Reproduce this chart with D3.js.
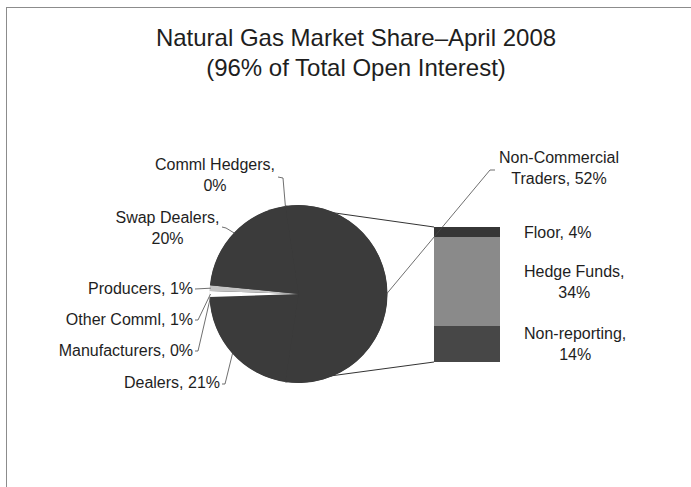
<!DOCTYPE html>
<html>
<head>
<meta charset="utf-8">
<script src="https://cdn.jsdelivr.net/npm/d3@7"></script>
<style>
  body { margin: 0; background: #fff; }
  text { font-family: Arial, "Liberation Sans", sans-serif; fill: #1e1e1e; }
</style>
</head>
<body>
<svg id="chart" width="691" height="487"></svg>
<script>
// pie slices, clockwise starting from the slice that is split out into the bar
const pieNames = ["Non-Commercial Traders", "Dealers", "Manufacturers", "Other Comml", "Producers", "Swap Dealers", "Comml Hedgers"];
const pieValues = [52, 21, 0, 1, 1, 20, 0];
const pieColors = ["#3b3b3b", "#3b3b3b", "#3b3b3b", "#ffffff", "#c4c4c4", "#3b3b3b", "#3b3b3b"];

// breakdown of the split slice (top to bottom)
const barNames = ["Floor", "Hedge Funds", "Non-reporting"];
const barValues = [4, 34, 14];
const barColors = ["#363636", "#8a8a8a", "#474747"];

const titleLines = ["Natural Gas Market Share\u2013April 2008", "(96% of Total Open Interest)"];

// layout
let cx = 298.5, cy = 294, r = 89;
let barX = 434, barW = 66, barTop = 227, barBottom = 362;
let lineH = 21;

// where each pie label sits and where its leader starts (label side)
let pieLabelPos = {
  "Comml Hedgers": {x: 215, y: 170, anchor: "middle", br: 2, leader: [[278, 177], [283, 178]]},
  "Swap Dealers": {x: 167.5, y: 223, anchor: "middle", br: 2, leader: [[222, 227], [226, 228]]},
  "Producers": {x: 193, y: 294, anchor: "end", leader: [[195, 289]]},
  "Other Comml": {x: 193, y: 325, anchor: "end", leader: [[195, 320], [198, 320]]},
  "Manufacturers": {x: 193, y: 356, anchor: "end", leader: [[195, 351], [198, 351]]},
  "Dealers": {x: 220, y: 388, anchor: "end", leader: [[222, 384], [225, 384]]},
  "Non-Commercial Traders": {x: 559, y: 163, anchor: "middle", br: 1, leader: [[495, 170], [490, 170]]}
};
let barLabelBr = {"Floor": null, "Hedge Funds": 2, "Non-reporting": 1};

let svg = d3.select("#chart");

// frame
svg.append("rect")
  .attr("x", 6.5).attr("y", 7.5)
  .attr("width", 720).attr("height", 520)
  .attr("fill", "none")
  .attr("stroke", "#8c8c8c")
  .attr("stroke-width", 1);

// title
svg.append("g").selectAll("text")
  .data(titleLines)
  .enter().append("text")
  .attr("x", 356)
  .attr("y", (d, i) => 46 + i * 30)
  .attr("text-anchor", "middle")
  .style("font-size", "24px")
  .text(d => d);

let total = d3.sum(pieValues);
let splitAngle = pieValues[0] / total * 2 * Math.PI;
let start = Math.PI / 2 - splitAngle / 2;

let pie = d3.pie()
  .sort(null)
  .value(d => d)
  .startAngle(start)
  .endAngle(start + 2 * Math.PI);

let arcs = pie(pieValues);

let arc = d3.arc().innerRadius(0).outerRadius(r);

let pt = function(a, rad) {
  return [cx + rad * Math.sin(a), cy - rad * Math.cos(a)];
};

// bar scale
let y = d3.scaleLinear()
  .domain([0, d3.sum(barValues)])
  .range([barTop, barBottom]);

let stacked = [];
let acc = 0;
barValues.forEach(function(v, i) {
  stacked.push({name: barNames[i], value: v, y0: acc, y1: acc + v, color: barColors[i]});
  acc += v;
});

// connector lines between the split slice and the bar
let lineG = svg.append("g");
lineG.append("line")
  .attr("x1", pt(arcs[0].startAngle, r)[0]).attr("y1", pt(arcs[0].startAngle, r)[1])
  .attr("x2", barX).attr("y2", y(0))
  .attr("stroke", "#333").attr("stroke-width", 1);
lineG.append("line")
  .attr("x1", pt(arcs[0].endAngle, r)[0]).attr("y1", pt(arcs[0].endAngle, r)[1])
  .attr("x2", barX).attr("y2", y(d3.sum(barValues)))
  .attr("stroke", "#333").attr("stroke-width", 1);

// pie (dark disc underneath so the slice seams don't show)
let pieG = svg.append("g")
  .attr("transform", "translate(" + cx + "," + cy + ")");
pieG.append("circle").attr("r", r - 0.3).attr("fill", pieColors[0]);
pieG.selectAll("path")
  .data(arcs)
  .enter().append("path")
  .attr("d", arc)
  .attr("fill", (d, i) => pieColors[i]);

// bar
svg.append("g").selectAll("rect")
  .data(stacked)
  .enter().append("rect")
  .attr("x", barX)
  .attr("y", d => y(d.y0))
  .attr("width", barW)
  .attr("height", d => y(d.y1) - y(d.y0))
  .attr("fill", d => d.color)
  .attr("shape-rendering", "crispEdges");

let splitLines = function(full, br) {
  if (!br) return [full];
  let words = full.split(" ");
  return [words.slice(0, br).join(" "), words.slice(br).join(" ")];
};

// pie labels and leaders
let labelG = svg.append("g").style("font-size", "16px");
arcs.forEach(function(a, i) {
  let name = pieNames[i];
  let pos = pieLabelPos[name];
  let lines = splitLines(name + ", " + pieValues[i] + "%", pos.br);
  let t = labelG.append("text")
    .attr("text-anchor", pos.anchor);
  lines.forEach(function(l, k) {
    t.append("tspan").attr("x", pos.x).attr("y", pos.y + k * lineH).text(l);
  });
  let mid = (a.startAngle + a.endAngle) / 2;
  let pts = pos.leader.concat([pt(mid, r - 1)]);
  labelG.append("path")
    .attr("d", d3.line()(pts))
    .attr("fill", "none")
    .attr("stroke", "#4a4a4a")
    .attr("stroke-width", 0.8);
});

// bar labels: left edge aligned, lines centred in their block, block centred on the segment
stacked.forEach(function(d) {
  let lines = splitLines(d.name + ", " + d.value + "%", barLabelBr[d.name]);
  let mid = (y(d.y0) + y(d.y1)) / 2;
  let t = labelG.append("text").attr("text-anchor", "middle");
  let spans = lines.map(function(l, k) {
    return t.append("tspan")
      .attr("y", mid + 5.5 - (lines.length - 1) * lineH / 2 + k * lineH)
      .text(l);
  });
  let w = d3.max(spans, s => s.node().getComputedTextLength());
  spans.forEach(s => s.attr("x", barX + barW + 24 + w / 2));
});
</script>
</body>
</html>
